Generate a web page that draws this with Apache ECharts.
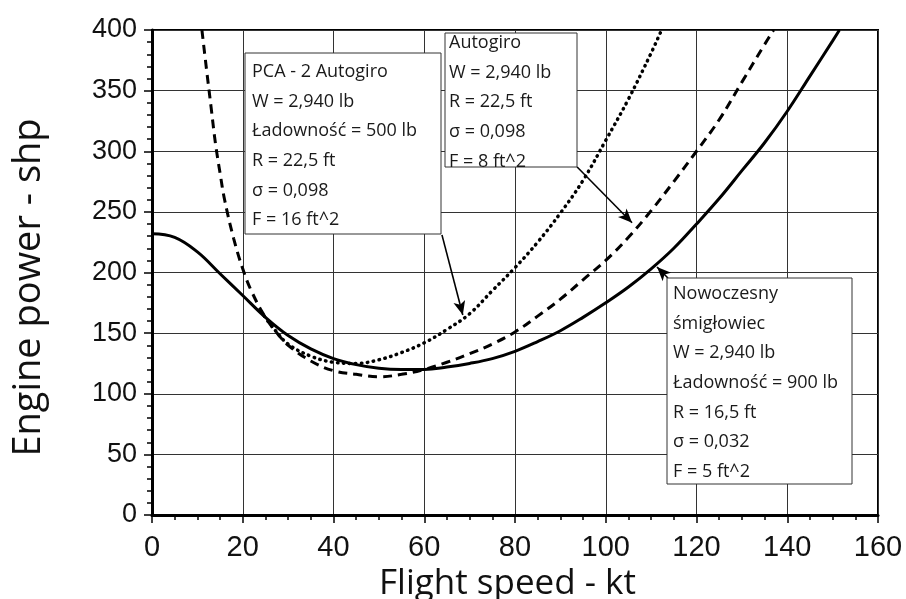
<!DOCTYPE html>
<html style="height: 100%">
<head>
<meta charset="utf-8">
<script src="https://cdn.jsdelivr.net/npm/echarts@6/dist/echarts.min.js"></script>
</head>
<body style="height: 100%; margin: 0; background: #fff">
<div id="main" style="width: 906px; height: 599px"></div>
<script>
// modern helicopter (solid)
var heliX = [0, 5, 10, 15, 20, 25, 30, 35, 40, 45, 50, 55, 60, 65, 70, 75, 80, 85, 90, 95, 100, 105, 110, 115, 120, 125, 130, 135, 140, 145, 150, 151.5];
var heliY = [232, 229, 217, 199, 181, 163, 148, 137, 129, 124, 121, 120, 120, 122, 125, 129, 135, 143, 152, 163, 175, 188, 203, 220, 240, 261, 284, 307, 333, 362, 391, 400];
// autogiro F = 8 (dashed)
var autoX = [11, 12, 13, 14, 15, 16, 18, 20, 22, 25, 28, 30, 35, 40, 45, 50, 55, 60, 65, 70, 75, 80, 85, 90, 95, 100, 105, 110, 115, 120, 125, 130, 135, 137];
var autoY = [400, 368, 337, 306, 282, 260, 228, 203, 184, 163, 148, 140, 127, 119, 116, 114, 116, 120, 126, 133, 141, 151, 164, 178, 194, 210, 229, 251, 275, 300, 326, 357, 388, 400];
// PCA-2 autogiro (dotted)
var pcaX = [24, 27, 30, 35, 40, 45, 50, 55, 60, 65, 70, 75, 80, 85, 90, 95, 100, 105, 110, 112.3];
var pcaY = [168, 153, 141, 131, 126, 125, 128, 134, 142, 153, 166, 185, 204, 225, 249, 276, 309, 343, 381, 400];

var pcaText = ['PCA - 2 Autogiro', 'W = 2,940 lb', 'Ładowność = 500 lb', 'R = 22,5 ft', 'σ = 0,098', 'F = 16 ft^2'];
var autoText = ['Autogiro', 'W = 2,940 lb', 'R = 22,5 ft', 'σ = 0,098', 'F = 8 ft^2'];
var heliText = ['Nowoczesny', 'śmigłowiec', 'W = 2,940 lb', 'Ładowność = 900 lb', 'R = 16,5 ft', 'σ = 0,032', 'F = 5 ft^2'];

// arrows: [from, to] in data units
var pcaArrow = [[63.9, 231], [68.5, 165]];
var autoArrow = [[93.7, 287], [105.8, 241]];
var heliArrow = [[113.7, 195.5], [111.3, 204.5]];

function zip(xs, ys) {
    return xs.map(function (x, i) { return [x, ys[i]]; });
}
function arrow(a) {
    return {
        silent: true,
        symbol: ['none', 'arrow'],
        symbolSize: [9, 14],
        label: { show: false },
        lineStyle: { color: '#000', width: 1.6, type: 'solid' },
        data: [[{ coord: a[0] }, { coord: a[1] }]]
    };
}
function box(x, y, w, h, lines, tx, ty) {
    return {
        type: 'group',
        z: 100,
        children: [
            { type: 'rect', z: 100, shape: { x: x, y: y, width: w, height: h },
              style: { fill: '#fff', stroke: '#333', lineWidth: 1 } },
            { type: 'text', z: 101, x: tx, y: ty,
              style: { text: lines.join('\n'), fill: '#1a1a1a', fontSize: 18, lineHeight: 29.7,
                       fontFamily: 'Open Sans', verticalAlign: 'top' } }
        ]
    };
}

var myChart = echarts.init(document.getElementById('main'));
myChart.setOption({
    backgroundColor: '#fff',
    animation: false,
    grid: { left: 152, right: 28, top: 30, bottom: 84, show: true, borderColor: '#000', borderWidth: 2,
            containLabel: false, outerBoundsMode: 'none' },
    xAxis: {
        type: 'value', min: 0, max: 160, interval: 20,
        name: 'Flight speed - kt', nameLocation: 'middle', nameGap: 46,
        nameTextStyle: { fontSize: 35, fontFamily: 'Open Sans', color: '#111', padding: [0, 15, 0, 0] },
        axisLine: { lineStyle: { color: '#000', width: 3 } },
        axisTick: { length: 8, lineStyle: { color: '#000', width: 1.5 } },
        minorTick: { show: true, splitNumber: 4, length: 5, lineStyle: { color: '#000', width: 1.5 } },
        splitLine: { lineStyle: { color: '#333', width: 1 } },
        axisLabel: { margin: 18, fontSize: 29, fontFamily: 'Liberation Sans', color: '#111' }
    },
    yAxis: {
        type: 'value', min: 0, max: 400, interval: 50,
        name: 'Engine power - shp', nameLocation: 'middle', nameGap: 104,
        nameTextStyle: { fontSize: 38, fontFamily: 'Open Sans', color: '#111', padding: [0, 30, 0, 0] },
        axisLine: { lineStyle: { color: '#000', width: 3 } },
        axisTick: { length: 8, lineStyle: { color: '#000', width: 1.5 } },
        minorTick: { show: true, splitNumber: 5, length: 5, lineStyle: { color: '#000', width: 1.5 } },
        splitLine: { lineStyle: { color: '#333', width: 1 } },
        axisLabel: { margin: 15, fontSize: 27, fontFamily: 'Liberation Sans', color: '#111' }
    },
    series: [
        {
            type: 'line', data: zip(heliX, heliY), smooth: 0.4, showSymbol: false,
            lineStyle: { color: '#000', width: 3 },
            markLine: arrow(heliArrow)
        },
        {
            type: 'line', data: zip(autoX, autoY), smooth: 0.4, showSymbol: false,
            lineStyle: { color: '#000', width: 3, type: [9, 6] },
            markLine: arrow(autoArrow)
        },
        {
            type: 'line', data: zip(pcaX, pcaY), smooth: 0.4, showSymbol: false,
            lineStyle: { color: '#000', width: 3.5, type: [0.5, 5.5], cap: 'round' },
            markLine: arrow(pcaArrow)
        }
    ],
    graphic: [
        box(245, 53, 196, 181, pcaText, 252, 57),
        box(445, 33, 132, 134, autoText, 449, 28),
        box(667, 278, 185, 206, heliText, 673, 279)
    ]
});
</script>
</body>
</html>
